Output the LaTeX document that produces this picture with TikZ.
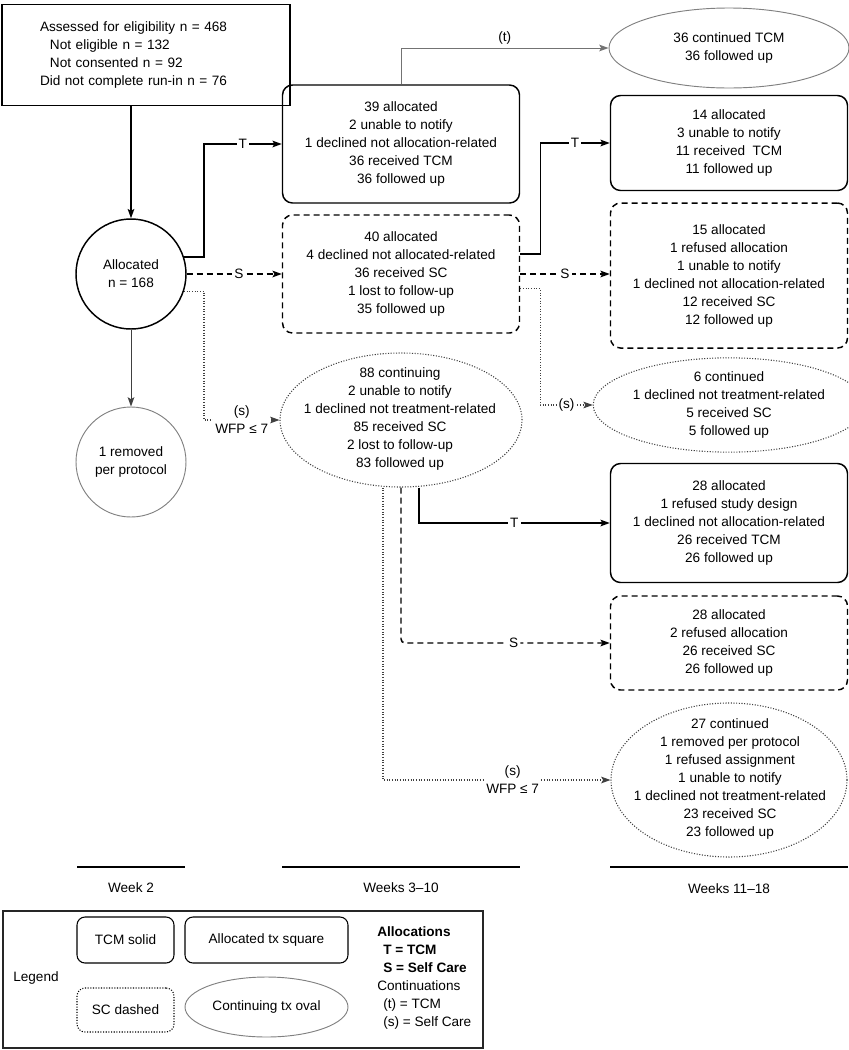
\documentclass[tikz,border=0pt]{standalone}
\usepackage{fontspec}
\setmainfont{Liberation Sans}
\usepackage{tikz}
\usetikzlibrary{positioning,shapes.geometric,arrows.meta}
\newcommand\figfont{\fontsize{10.2pt}{13.5pt}\selectfont}

\begin{document}
\begin{tikzpicture}[x=0.75pt,y=-0.75pt,on grid,font=\figfont,
    every node/.style={align=center,inner sep=0pt,text=black},
    startbox/.style={draw,line width=.9pt,align=left,text width=159pt,
      inner xsep=28.5pt,minimum height=75.75pt},
    allocbox/.style={draw,line width=1.1pt,rounded corners=7.5pt,
      minimum width=177.75pt},
    tcmbox/.style={allocbox},
    scbox/.style={allocbox,dash pattern=on 4.5pt off 3pt},
    oval/.style={ellipse,draw=black!75,line width=.8pt,
      dash pattern=on .8pt off 1.2pt},
    greyoval/.style={ellipse,draw=black!50,line width=.7pt},
    link/.style={-{Stealth[length=7pt,width=5pt,inset=1.5pt]},line width=1.1pt},
    sclink/.style={link,dash pattern=on 4.5pt off 3pt},
    contlink/.style={link,black!75,line width=.8pt,dash pattern=on .8pt off 1.2pt},
    greylink/.style={link,black!55,line width=.7pt},
    lab/.style={fill=white,inner sep=1.5pt},
    weekbar/.style={line width=1.6pt}]
  \useasboundingbox (0,0) rectangle (849,1050);

  % week 2
  \node[startbox] (assess) at (146,55) {Assessed for eligibility n = 468\\
    \hspace*{7.5pt}Not eligible n = 132\\
    \hspace*{7.5pt}Not consented n = 92\\
    Did not complete run-in n = 76};
  \node[circle,draw,line width=1.1pt,minimum size=82.5pt] (alloc) at (131,274)
    {Allocated\\n = 168};
  \node[circle,draw=black!50,line width=.7pt,minimum size=82.5pt] (removed)
    [below=141pt of alloc] {1 removed\\per protocol};

  % weeks 3-10
  \node[tcmbox,minimum height=88.5pt] (tA) at (401,144)
    {39 allocated\\2 unable to notify\\1 declined not allocation-related\\
     36 received TCM\\36 followed up};
  \node[scbox,minimum height=88.5pt] (sA) [below=97.5pt of tA]
    {40 allocated\\4 declined not allocated-related\\36 received SC\\
     1 lost to follow-up\\35 followed up};
  \node[oval,minimum width=181.5pt,minimum height=100.5pt] (cA) [below=109.5pt of sA]
    {};
  \node (cAtext) at (400,419) {88 continuing\\2 unable to notify\\
     1 declined not treatment-related\\85 received SC\\2 lost to follow-up\\
     83 followed up};

  % weeks 11-18
  \node[greyoval,minimum width=180pt,minimum height=60pt] (ctT) at (729,48)
    {36 continued TCM\\36 followed up};
  \node[tcmbox,minimum height=71.25pt] (tB) [below=71.25pt of ctT]
    {14 allocated\\3 unable to notify\\11 received~ TCM\\11 followed up};
  \node[scbox,minimum height=108.75pt] (sB) [below=99.4pt of tB]
    {15 allocated\\1 refused allocation\\1 unable to notify\\
     1 declined not allocation-related\\12 received SC\\12 followed up};
  \node[oval,minimum width=179.25pt,minimum height=63pt] (cB) [below=97.1pt of sB]
    {6 continued\\1 declined not treatment-related\\5 received SC\\5 followed up};
  \node[tcmbox,minimum height=89.25pt] (tC) [below=88.5pt of cB]
    {28 allocated\\1 refused study design\\1 declined not allocation-related\\
     26 received TCM\\26 followed up};
  \node[scbox,minimum height=70.5pt] (sC) [below=90pt of tC]
    {28 allocated\\2 refused allocation\\26 received SC\\26 followed up};
  \node[oval,minimum width=177pt,minimum height=115.5pt] (cC) [below=102.75pt of sC]
    {};
  \node (cCtext) at (730,779) {27 continued\\1 removed per protocol\\1 refused assignment\\
     1 unable to notify\\1 declined not treatment-related\\23 received SC\\
     23 followed up};

  % connectors
  \draw[link] (alloc.north |- assess.south) -- (alloc.north);
  \draw[greylink,black!75] (alloc) -- (removed);
  \draw[link] (alloc.18) -- ++(20,0) |- node[pos=.75,lab] {T} (tA.west);
  \draw[sclink] (alloc) -- node[pos=.55,lab] {S} (sA);
  \draw[contlink] (alloc.-18) -- ++(20,0) |- node[pos=.75,lab] {(s)\\WFP ≤ 7} (cA.west);
  \draw[greylink] (tA.north) |- node[pos=.75,anchor=south,inner sep=2.5pt] {(t)} (ctT.west);
  \draw[link] ([yshift=15pt]sA.east) -- ++(20,0) |- node[pos=.75,lab] {T} (tB.west);
  \draw[sclink] (sA.east) -- node[lab] {S} (sA.east -| sB.west);
  \draw[contlink] ([yshift=-11pt]sA.east) -- ++(20,0) |- node[pos=.75,lab] {(s)} (cB.west);
  \draw[link] ([xshift=13.5pt]cA.south) |- node[pos=.75,lab] {T} (tC.west);
  \draw[sclink,rounded corners=3pt] (cA.south) |- node[pos=.77,lab] {S} (sC.west);
  \draw[contlink] ([xshift=-13.5pt]cA.south) |- node[pos=.785,lab] {(s)\\WFP ≤ 7} (cC.west);

  % time axis
  \draw[weekbar] (77,867) -- (185,867);
  \draw[weekbar] (282,867) -- (520,867);
  \draw[weekbar] (610,867) -- (848,867);
  \node (wk2) at (131,888) {Week 2};
  \node (wk3) at (401,888) {Weeks 3--10};
  \node (wk11) at (729,889) {Weeks 11--18};

  % legend
  \draw[black!85,line width=.8pt] (3,911) rectangle (483,1048);
  \node (legend) at (36,978) {Legend};
  \node[draw,line width=.8pt,rounded corners=6pt,minimum width=72.75pt,
    minimum height=34.5pt] (keyT) at (125.5,940) {TCM solid};
  \node[draw,line width=.8pt,rounded corners=6pt,minimum width=122.25pt,
    minimum height=34.5pt] (keyA) at (266.5,940) {Allocated tx square};
  \node[draw,line width=.8pt,rounded corners=6pt,dash pattern=on .8pt off 1.2pt,
    minimum width=72.75pt,minimum height=33pt] (keyS) at (125.5,1010) {SC dashed};
  \node[greyoval,minimum width=122.25pt,minimum height=45pt] (keyC) at (266.5,1007)
    {Continuing tx oval};
  \node[anchor=west,align=left] (keytext) at (377,978)
    {\textbf{Allocations}\\\hspace*{4.5pt}\textbf{T = TCM}\\
     \hspace*{4.5pt}\textbf{S = Self Care}\\Continuations\\
     \hspace*{4.5pt}(t) = TCM\\\hspace*{4.5pt}(s) = Self Care};
\end{tikzpicture}
\end{document}
